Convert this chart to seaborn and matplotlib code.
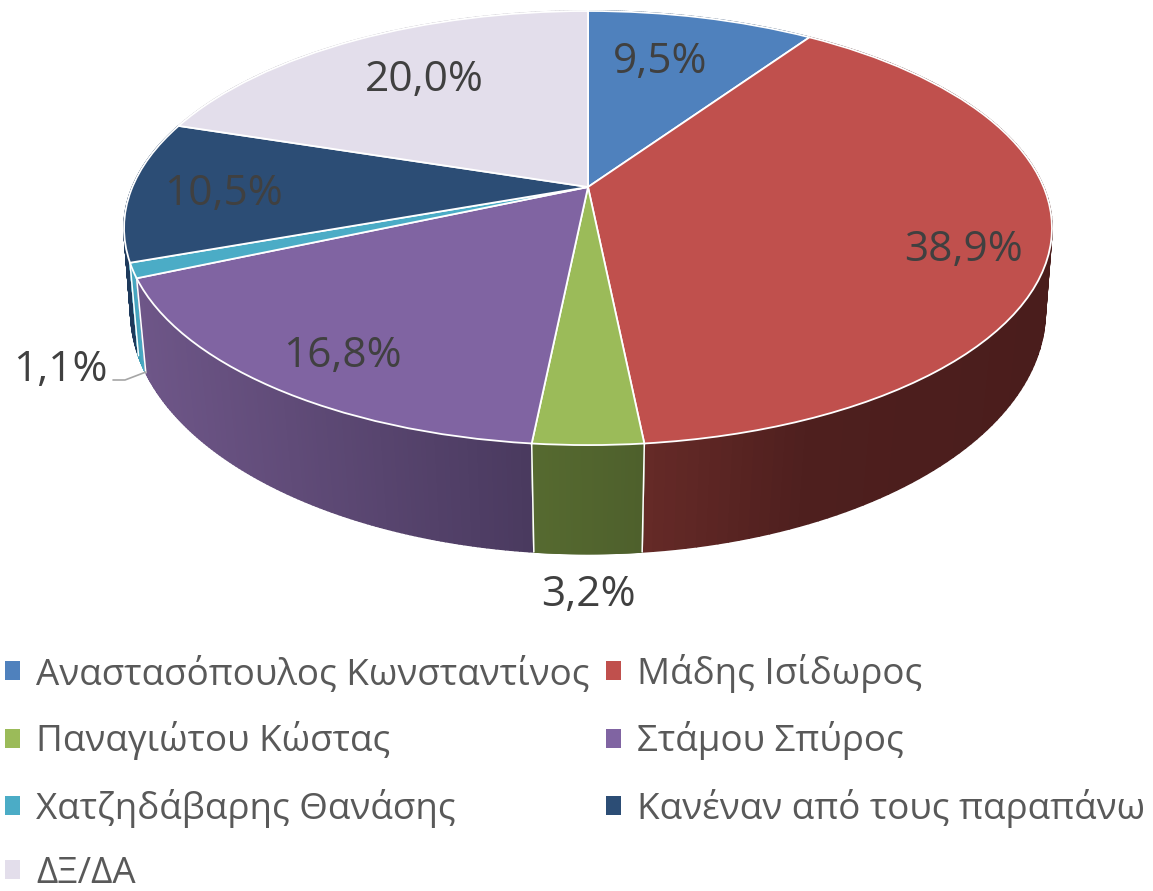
"""
3D-look pie of poll results, drawn with a perspective map on top of ax.pie.
"""

import matplotlib.pyplot as plt
import numpy as np
import seaborn as sns
from matplotlib.collections import PolyCollection
from matplotlib.colors import LinearSegmentedColormap
from matplotlib.transforms import Transform

candidates = [
    "Αναστασόπουλος Κωνσταντίνος",
    "Μάδης Ισίδωρος",
    "Παναγιώτου Κώστας",
    "Στάμου Σπύρος",
    "Χατζηδάβαρης Θανάσης",
    "Κανέναν από τους παραπάνω",
    "ΔΞ/ΔΑ",
]
shares = [9.5, 38.9, 3.2, 16.8, 1.1, 10.5, 20.0]

TOP_COLORS = ["#4F81BD", "#C0504D", "#9BBB59", "#8064A2", "#4BACC6", "#2C4D75", "#E3DEEB"]
# side shading, left to right along x
SIDE_COLORS = [
    [(0, "#2F4D70"), (1, "#2F4D70")],
    [(0, "#652A27"), (0.4, "#4E1F1E"), (1, "#4A1D1C")],
    [(0, "#566A30"), (1, "#4E602C")],
    [(0, "#6E5688"), (1, "#4A3A5F")],
    [(0, "#3F9BB4"), (1, "#4BACC6")],
    [(0, "#1E3A5C"), (1, "#1E3A5C")],
    [(0, "#B0ACB8"), (1, "#B0ACB8")],
]
LABEL_POS = [(660, 62), (963, 250), (588, 595), (342, 356), (60, 370), (223, 194), (424, 80)]
LEADER_X = [113, 125, 146]
LEADER_Y = [380, 380, 372]

TEXT = "#404040"
LEGEND_TEXT = "#595959"
WIDTH, HEIGHT = 1153, 891

sns.set_theme(style="white")
plt.rcParams["font.family"] = ["Open Sans", "DejaVu Sans"]


class Perspective(Transform):
    """Unit circle to pixel coordinates, far side (+y) squeezed."""
    input_dims = output_dims = 2
    is_affine = False

    def __init__(self, cx, cy, a, b, k):
        super().__init__()
        self.cx, self.cy, self.a, self.b, self.k = cx, cy, a, b, k

    def transform_non_affine(self, values):
        values = np.asarray(values, dtype=float)
        w = 1 + self.k * values[:, 1]
        return np.column_stack([
            self.cx + self.a * values[:, 0] / w,
            self.cy - self.b * values[:, 1] / w,
        ])


top_map = Perspective(588, 187, 455.6, 209.3, 0.189)
bottom_map = Perspective(588, 271, 451, 236, 0.165)

fig, ax = plt.subplots(figsize=(WIDTH / 100, HEIGHT / 100), dpi=100)
fig.subplots_adjust(0, 0, 1, 1)

wedges, _ = ax.pie(
    shares, startangle=90, counterclock=False,
    colors=sns.color_palette(TOP_COLORS),
    wedgeprops={"edgecolor": "white", "linewidth": 1.3, "zorder": 5},
)
ax.set_aspect("auto")
ax.set_xlim(0, WIDTH)
ax.set_ylim(HEIGHT, 0)
for w in wedges:
    w.set_transform(top_map + ax.transData)


def draw_side(wedge, stops):
    theta = np.radians(np.linspace(wedge.theta1, wedge.theta2, 120))
    unit = np.column_stack([np.cos(theta), np.sin(theta)])
    top, bottom = top_map.transform(unit), bottom_map.transform(unit)
    cmap = LinearSegmentedColormap.from_list("side", stops)
    x_mid = (top[:-1, 0] + top[1:, 0]) / 2
    span = max(x_mid.max() - x_mid.min(), 1)
    colors = cmap((x_mid - x_mid.min()) / span)
    quads = [[top[i], top[i + 1], bottom[i + 1], bottom[i]] for i in range(len(x_mid))]
    ax.add_collection(PolyCollection(quads, facecolors=colors, edgecolors=colors,
                                     linewidths=1.2, zorder=2))
    # white only on the vertical edges between slices
    for end in (0, -1):
        ax.plot([top[end, 0], bottom[end, 0]], [top[end, 1], bottom[end, 1]],
                color="white", lw=1.1, zorder=2)


# back slices first so the front ones overlap them
depth = [np.mean(np.sin(np.radians(np.linspace(w.theta1, w.theta2, 50)))) for w in wedges]
for i in np.argsort(depth)[::-1]:
    draw_side(wedges[i], SIDE_COLORS[i])

for share, (x, y) in zip(shares, LABEL_POS):
    ax.text(x, y, f"{share:.1f}%".replace(".", ","), ha="center", va="center",
            fontsize=30.5, color=TEXT, zorder=6)
ax.plot(LEADER_X, LEADER_Y, color="#A6A6A6", lw=1.2, zorder=6)

# matplotlib fills columns first, the chart reads across rows
order = [0, 2, 4, 6, 1, 3, 5]
legend = ax.legend(
    [wedges[i] for i in order], [candidates[i] for i in order],
    ncols=2, loc="upper left", bbox_to_anchor=(5, 654), bbox_transform=ax.transData,
    frameon=False, fontsize=26.5, labelcolor=LEGEND_TEXT, borderpad=0, borderaxespad=0,
    handlelength=0.41, handleheight=0.41, handletextpad=0.43, columnspacing=0.46,
    labelspacing=0.77,
)
for h in legend.legend_handles:
    h.set_edgecolor("none")

fig.savefig("out.png", dpi=100)
